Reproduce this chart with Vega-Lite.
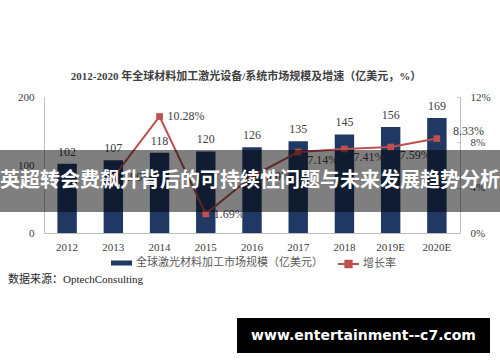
{
  "$schema": "https://vega.github.io/schema/vega-lite/v6.json",
  "width": 416,
  "height": 136,
  "autosize": {"type": "none"},
  "padding": {"left": 44, "top": 97, "right": 40, "bottom": 129},
  "background": "white",
  "title": {
    "text": "2012-2020 年全球材料加工激光设备/系统市场规模及增速（亿美元，%）",
    "font": "Liberation Serif, Noto Sans CJK SC",
    "fontSize": 11,
    "fontWeight": "bold",
    "color": "#404040",
    "offset": 9,
    "anchor": "middle",
    "dx": -6
  },
  "config": {
    "view": {"stroke": null},
    "axis": {"grid": false}
  },
  "datasets": {
    "main": [
      {"year": "2012", "size": 102, "rate": null},
      {"year": "2013", "size": 107, "rate": 0.049},
      {"year": "2014", "size": 118, "rate": 0.1028},
      {"year": "2015", "size": 120, "rate": 0.0169},
      {"year": "2016", "size": 126, "rate": 0.05},
      {"year": "2017", "size": 135, "rate": 0.0714},
      {"year": "2018", "size": 145, "rate": 0.0741},
      {"year": "2019E", "size": 156, "rate": 0.0759},
      {"year": "2020E", "size": 169, "rate": 0.0833}
    ],
    "banner": [{"label": "英超转会费飙升背后的可持续性问题与未来发展趋势分析"}],
    "mark": [{"label": "www.entertainment--c7.com"}],
    "source": [{"label": "数据来源：OptechConsulting"}]
  },
  "data": {"name": "main"},
  "encoding": {
    "x": {
      "field": "year",
      "type": "nominal",
      "sort": null,
      "scale": {"paddingInner": 0.58, "paddingOuter": 0.29},
      "axis": {
        "title": null,
        "labelAngle": 0,
        "ticks": false,
        "domainColor": "#bfbfbf",
        "labelPadding": 8,
        "labelFont": "Liberation Serif",
        "labelFontSize": 11,
        "labelColor": "#404040"
      }
    }
  },
  "layer": [
    {
      "layer": [
        {
          "mark": {"type": "bar"},
          "encoding": {
            "y": {
              "field": "size",
              "type": "quantitative",
              "scale": {"domain": [0, 200]},
              "axis": {
                "orient": "left",
                "title": null,
                "values": [0, 50, 100, 150, 200],
                "ticks": false,
                "domainColor": "#bfbfbf",
                "labelPadding": 10,
                "labelFont": "Liberation Serif",
                "labelFontSize": 11,
                "labelColor": "#404040"
              }
            },
            "fill": {
              "datum": "全球激光材料加工市场规模（亿美元）",
              "scale": {"range": ["#1f3864"]},
              "legend": {
                "title": null,
                "orient": "none",
                "legendX": 67,
                "legendY": 155.5,
                "padding": 0,
                "symbolType": "M-1,-0.24H1V0.24H-1Z",
                "symbolSize": 441,
                "symbolStrokeWidth": 0,
                "labelOffset": 4,
                "labelFont": "Liberation Serif, Noto Sans CJK SC",
                "labelFontSize": 11,
                "labelColor": "#595959",
                "labelLimit": 300
              }
            }
          }
        },
        {
          "mark": {
            "type": "text",
            "baseline": "bottom",
            "dy": -5,
            "font": "Liberation Serif",
            "fontSize": 12,
            "fill": "#404040"
          },
          "encoding": {
            "y": {"field": "size", "type": "quantitative"},
            "text": {"field": "size", "type": "quantitative"}
          }
        }
      ]
    },
    {
      "transform": [{"filter": "datum.rate != null"}],
      "layer": [
        {
          "mark": {"type": "line", "strokeWidth": 2},
          "encoding": {
            "y": {
              "field": "rate",
              "type": "quantitative",
              "scale": {"domain": [0, 0.12]},
              "axis": {
                "orient": "right",
                "title": null,
                "values": [0, 0.02, 0.04, 0.06, 0.08, 0.1, 0.12],
                "format": ".0%",
                "tickSize": -3,
                "tickColor": "#bfbfbf",
                "domainColor": "#bfbfbf",
                "labelPadding": 13,
                "labelFont": "Liberation Serif",
                "labelFontSize": 11,
                "labelColor": "#404040"
              }
            },
            "stroke": {
              "datum": "增长率",
              "scale": {"range": ["#c0504d"]},
              "legend": {
                "title": null,
                "orient": "none",
                "legendX": 293,
                "legendY": 155.5,
                "padding": 0,
                "symbolType": "M-1,0H1M-0.3,-0.3H0.3V0.3H-0.3Z",
                "symbolSize": 441,
                "symbolStrokeWidth": 2,
                "symbolFillColor": "#c0504d",
                "labelOffset": 3,
                "labelFont": "Liberation Serif, Noto Sans CJK SC",
                "labelFontSize": 11,
                "labelColor": "#595959"
              }
            }
          }
        },
        {
          "mark": {"type": "square", "size": 45, "fill": "#c0504d", "opacity": 1},
          "encoding": {
            "y": {"field": "rate", "type": "quantitative"}
          }
        },
        {
          "transform": [{"filter": "indexof(['2013','2014','2015','2016'], datum.year) >= 0"}],
          "mark": {"type": "text", "align": "left", "baseline": "middle", "dx": 8, "font": "Liberation Serif", "fontSize": 12, "fill": "#404040"},
          "encoding": {
            "y": {"field": "rate", "type": "quantitative"},
            "text": {"field": "rate", "type": "quantitative", "format": ".2%"}
          }
        },
        {
          "transform": [{"filter": "indexof(['2017','2018','2019E'], datum.year) >= 0"}],
          "mark": {"type": "text", "align": "left", "baseline": "middle", "dx": 9, "dy": 8, "font": "Liberation Serif", "fontSize": 12, "fill": "#404040"},
          "encoding": {
            "y": {"field": "rate", "type": "quantitative"},
            "text": {"field": "rate", "type": "quantitative", "format": ".2%"}
          }
        },
        {
          "transform": [{"filter": "datum.year == '2020E'"}],
          "mark": {"type": "text", "align": "left", "baseline": "middle", "dx": 16, "dy": -8, "font": "Liberation Serif", "fontSize": 12, "fill": "#404040"},
          "encoding": {
            "y": {"field": "rate", "type": "quantitative"},
            "text": {"field": "rate", "type": "quantitative", "format": ".2%"}
          }
        }
      ]
    },
    {
      "data": {"name": "source"},
      "mark": {"type": "text", "align": "left", "baseline": "middle", "font": "Liberation Serif, Noto Sans CJK SC", "fontSize": 11, "fill": "#262626"},
      "encoding": {
        "x": {"value": -36},
        "y": {"value": 183},
        "text": {"field": "label"}
      }
    },
    {
      "data": {"name": "banner"},
      "mark": {"type": "rect", "fill": "black", "opacity": 0.5},
      "encoding": {
        "x": {"value": -44},
        "x2": {"value": 456},
        "y": {"value": 53},
        "y2": {"value": 115}
      }
    },
    {
      "data": {"name": "banner"},
      "mark": {"type": "text", "align": "center", "baseline": "middle", "font": "Noto Sans CJK SC", "fontWeight": "bold", "fontSize": 20, "fill": "white"},
      "encoding": {
        "x": {"value": 206},
        "y": {"value": 84},
        "text": {"field": "label"}
      }
    },
    {
      "data": {"name": "mark"},
      "mark": {"type": "rect", "fill": "black"},
      "encoding": {
        "x": {"value": 193},
        "x2": {"value": 446},
        "y": {"value": 221},
        "y2": {"value": 256}
      }
    },
    {
      "data": {"name": "mark"},
      "mark": {"type": "text", "align": "center", "baseline": "middle", "font": "DejaVu Sans", "fontWeight": "bold", "fontSize": 14, "fill": "white"},
      "encoding": {
        "x": {"value": 319.5},
        "y": {"value": 238.5},
        "text": {"field": "label"}
      }
    }
  ],
  "resolve": {"scale": {"y": "independent"}}
}
